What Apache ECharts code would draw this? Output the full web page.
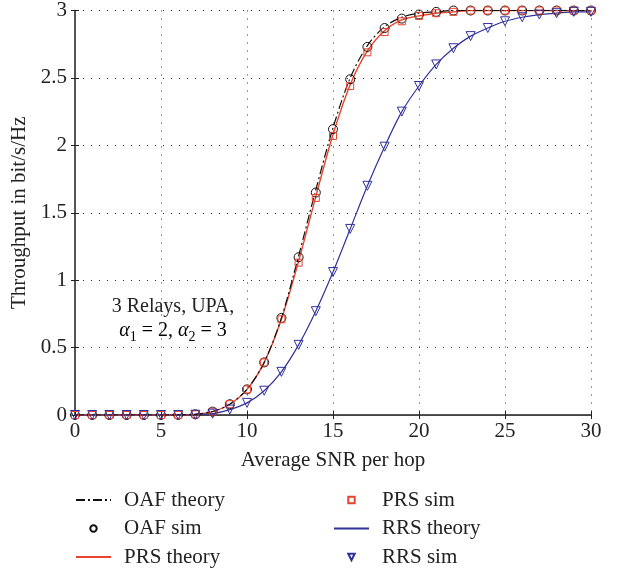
<!DOCTYPE html>
<html>
<head>
<meta charset="utf-8">
<script src="https://cdn.jsdelivr.net/npm/echarts@6/dist/echarts.min.js"></script>
<style>
  html, body { margin: 0; padding: 0; background: #fff; }
  #chart { width: 622px; height: 573px; }
</style>
</head>
<body>
<div id="chart"></div>
<script>
// average SNR per hop (dB)
const snr = [0, 1, 2, 3, 4, 5, 6, 7, 8, 9, 10, 11, 12, 13, 14, 15, 16, 17, 18, 19, 20, 21, 22, 23, 24, 25, 26, 27, 28, 29, 30]

const oafTheory = [0, 0, 0, 0, 0, 0, 0.001, 0.006, 0.026, 0.08, 0.19, 0.39, 0.72, 1.18, 1.67, 2.13, 2.5, 2.74, 2.88, 2.95, 2.98, 2.99, 3, 3, 3, 3, 3, 3, 3, 3, 3]
const oafSim = [0, 0, 0, 0, 0, 0, 0.001, 0.005, 0.025, 0.08, 0.19, 0.39, 0.72, 1.17, 1.65, 2.12, 2.49, 2.73, 2.87, 2.94, 2.97, 2.99, 3, 3, 3, 3, 3, 3, 3, 3, 3]
const prsTheory = [0, 0, 0, 0, 0, 0, 0.001, 0.005, 0.025, 0.08, 0.19, 0.39, 0.71, 1.14, 1.62, 2.08, 2.45, 2.7, 2.85, 2.93, 2.96, 2.98, 2.99, 3, 3, 3, 3, 3, 3, 3, 3]
const prsSim = [0, 0, 0, 0, 0, 0, 0.001, 0.005, 0.025, 0.08, 0.19, 0.39, 0.71, 1.13, 1.61, 2.07, 2.44, 2.69, 2.84, 2.92, 2.96, 2.98, 2.99, 3, 3, 3, 3, 3, 3, 3, 3]
const rrsTheory = [0, 0, 0, 0, 0, 0, 0, 0.002, 0.01, 0.04, 0.09, 0.18, 0.32, 0.52, 0.77, 1.06, 1.38, 1.7, 1.99, 2.25, 2.44, 2.6, 2.72, 2.81, 2.87, 2.92, 2.95, 2.97, 2.98, 2.99, 2.99]
const rrsSim = [0, 0, 0, 0, 0, 0, 0, 0.002, 0.01, 0.04, 0.09, 0.18, 0.32, 0.52, 0.77, 1.06, 1.38, 1.7, 1.99, 2.25, 2.44, 2.6, 2.72, 2.81, 2.87, 2.92, 2.95, 2.97, 2.98, 2.99, 2.99]

const xTicks = [0, 5, 10, 15, 20, 25, 30]
const yTicks = [0, 0.5, 1, 1.5, 2, 2.5, 3]

const red = '#e8432d'
const blue = '#31319c'
const font = 'Liberation Serif'

const pairs = ys => snr.map((x, i) => [x, ys[i]])

const chart = echarts.init(document.getElementById('chart'))

const gridLine = { show: true, lineStyle: { color: '#333', type: [1, 7], width: 1 } }
const tick = { show: true, inside: true, length: 4, lineStyle: { color: '#222' } }

function simSeries(name, data, color, symbol, size, rotate) {
  return {
    name: name,
    type: 'line',
    data: pairs(data),
    symbol: symbol,
    symbolSize: size,
    symbolRotate: rotate || 0,
    showAllSymbol: true,
    lineStyle: { width: 0, opacity: 0 },
    itemStyle: { color: 'rgba(0,0,0,0)', borderColor: color, borderWidth: 1 },
    z: 5
  }
}

const noDot = { opacity: 0 }
const legendText = { fontSize: 21, color: '#222', fontFamily: font, lineHeight: 22, padding: [0, 0, 0, 8] }

chart.setOption({
  animation: false,
  textStyle: { fontFamily: font },
  grid: { left: 75, right: 31, top: 9, bottom: 158 },
  xAxis: [{
    type: 'value',
    min: 0,
    max: 30,
    interval: 5,
    name: 'Average SNR per hop',
    nameLocation: 'middle',
    nameGap: 35,
    nameTextStyle: { fontSize: 21, color: '#222', fontFamily: font },
    axisLine: { lineStyle: { color: '#222', width: 1.5 } },
    axisTick: tick,
    axisLabel: { fontSize: 21, color: '#222', fontFamily: font, margin: 6,
      formatter: v => xTicks.includes(v) ? String(v) : '' },
    splitLine: gridLine
  }, {
    type: 'value',
    position: 'top',
    min: 0,
    max: 30,
    interval: 5,
    axisLine: { show: true, lineStyle: { color: '#444', width: 1 } },
    axisTick: tick,
    axisLabel: { show: false },
    splitLine: { show: false }
  }],
  yAxis: [{
    type: 'value',
    min: 0,
    max: 3,
    interval: 0.5,
    name: 'Throughput in bit/s/Hz',
    nameLocation: 'middle',
    nameGap: 45,
    nameTextStyle: { fontSize: 21, color: '#222', fontFamily: font },
    axisLine: { show: true, lineStyle: { color: '#222', width: 1.5 } },
    axisTick: tick,
    axisLabel: { fontSize: 21, color: '#222', fontFamily: font, margin: 8,
      formatter: v => yTicks.includes(v) ? String(v) : '' },
    splitLine: gridLine
  }, {
    type: 'value',
    position: 'right',
    min: 0,
    max: 3,
    interval: 0.5,
    axisLine: { show: true, lineStyle: { color: '#555', width: 1.5 } },
    axisTick: tick,
    axisLabel: { show: false },
    splitLine: { show: false }
  }],
  legend: [{
    orient: 'vertical',
    left: 75,
    top: 489,
    padding: 0,
    itemWidth: 35,
    itemHeight: 8,
    itemGap: 6.5,
    textStyle: legendText,
    data: [
      { name: 'OAF theory', itemStyle: noDot },
      'OAF sim',
      { name: 'PRS theory', itemStyle: noDot }
    ]
  }, {
    orient: 'vertical',
    left: 333,
    top: 489,
    padding: 0,
    itemWidth: 35,
    itemHeight: 8,
    itemGap: 6.5,
    textStyle: legendText,
    data: [
      'PRS sim',
      { name: 'RRS theory', itemStyle: noDot },
      'RRS sim'
    ]
  }],
  graphic: [{
    type: 'text',
    x: 173,
    y: 307,
    style: {
      text: '3 Relays, UPA,',
      font: '20px "Liberation Serif"',
      fill: '#222',
      textAlign: 'center',
      textVerticalAlign: 'middle'
    }
  }, {
    type: 'text',
    x: 173,
    y: 331,
    style: {
      text: '{a|α}{s|1}{n| = 2, }{a|α}{s|2}{n| = 3}',
      textAlign: 'center',
      textVerticalAlign: 'middle',
      rich: {
        a: { fontSize: 20, fontStyle: 'italic', fontFamily: font, color: '#222', lineHeight: 26, verticalAlign: 'middle' },
        n: { fontSize: 20, fontFamily: font, color: '#222', lineHeight: 26, verticalAlign: 'middle' },
        s: { fontSize: 14, fontFamily: font, color: '#222', lineHeight: 26, verticalAlign: 'bottom' }
      }
    }
  }],
  series: [{
    name: 'OAF theory',
    type: 'line',
    data: pairs(oafTheory),
    smooth: 0.3,
    symbol: 'none',
    lineStyle: { color: '#111', width: 1.2, type: [9, 3, 2, 3] },
    itemStyle: { color: '#111' },
    z: 3
  }, simSeries('OAF sim', oafSim, '#111', 'circle', 9),
  {
    name: 'PRS theory',
    type: 'line',
    data: pairs(prsTheory),
    smooth: 0.3,
    symbol: 'none',
    lineStyle: { color: red, width: 1.4 },
    itemStyle: { color: red },
    z: 2
  }, simSeries('PRS sim', prsSim, red, 'rect', 7),
  {
    name: 'RRS theory',
    type: 'line',
    data: pairs(rrsTheory),
    smooth: 0.3,
    symbol: 'none',
    lineStyle: { color: blue, width: 1.2 },
    itemStyle: { color: blue },
    z: 2
  }, simSeries('RRS sim', rrsSim, blue, 'triangle', 9, 180)]
})
</script>
</body>
</html>
